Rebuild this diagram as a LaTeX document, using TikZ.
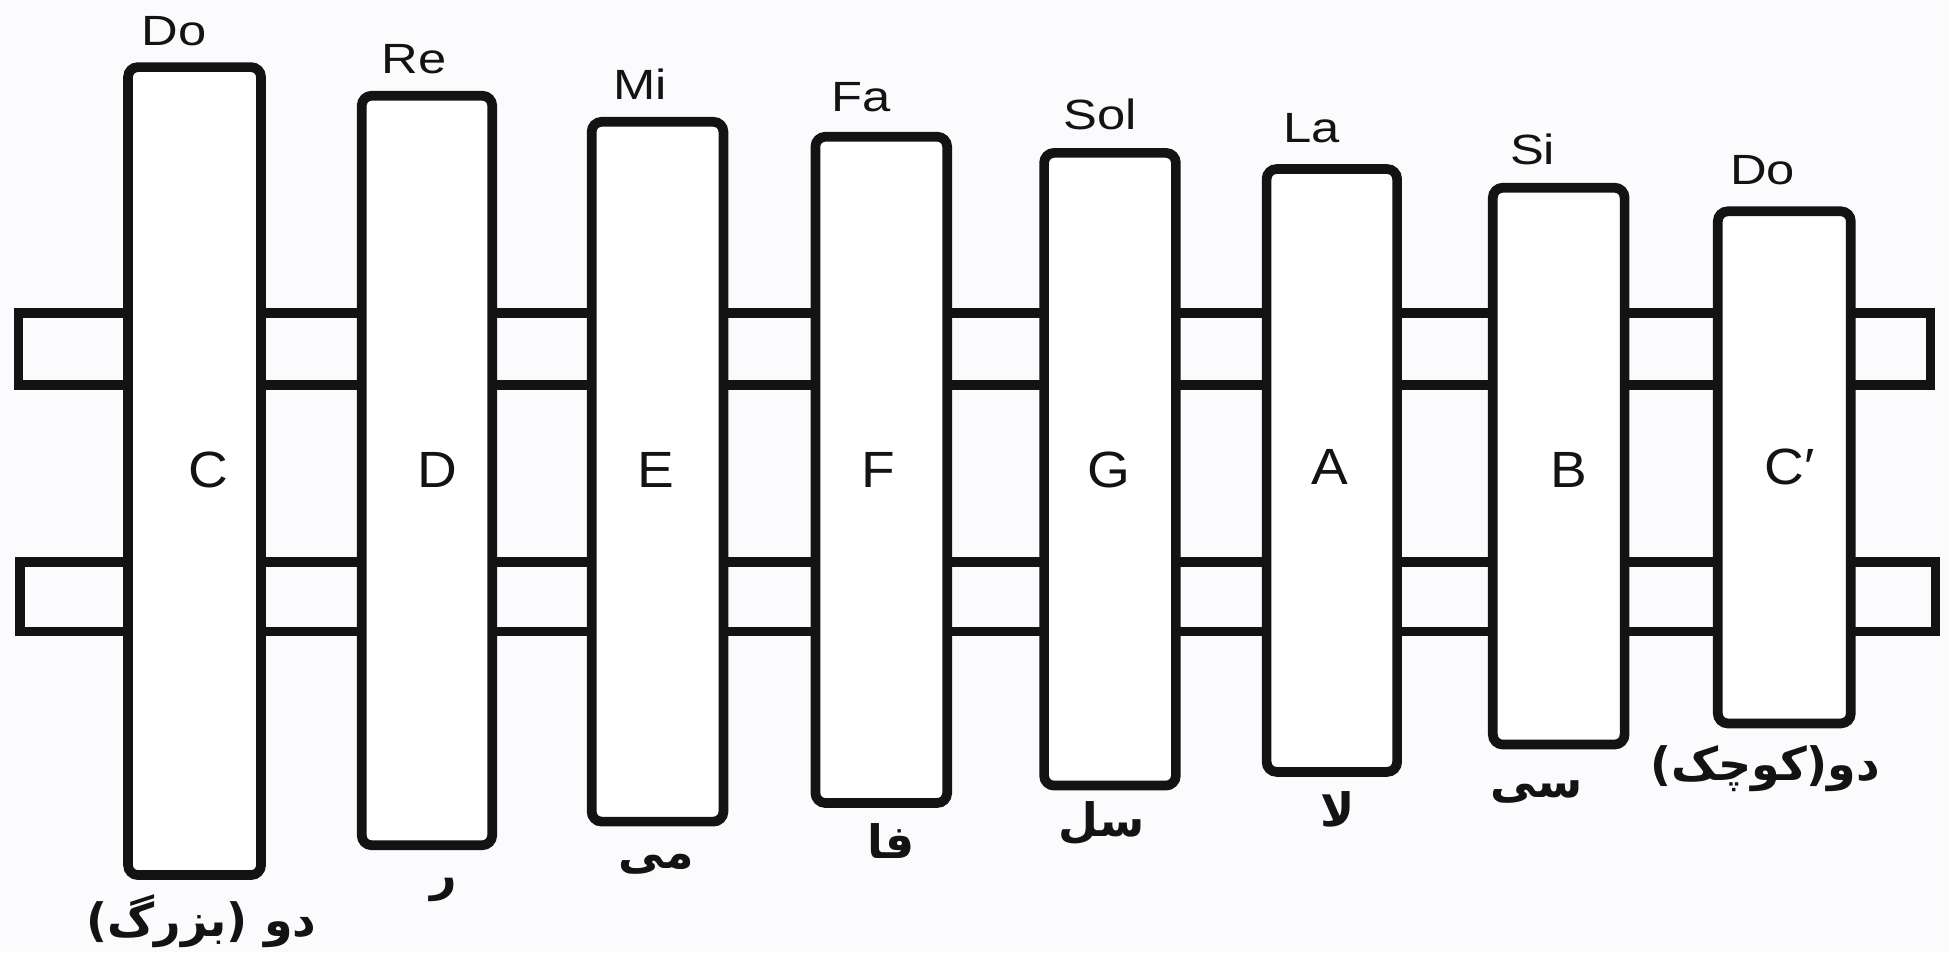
\documentclass[tikz,border=0pt]{standalone}
\usepackage{fontspec}
\setmainfont{Liberation Sans}
\newfontfamily\wide[FakeStretch=1.2]{Liberation Sans}
\newfontfamily\widebig[FakeStretch=1.08]{Liberation Sans}
\newfontfamily\fa[Script=Arabic]{DejaVu Sans}
\TeXXeTstate=1
\definecolor{ink}{RGB}{20,18,18}
\definecolor{paper}{RGB}{251,251,253}
\begin{document}
\begin{tikzpicture}[x=0.5pt,y=-0.5pt,
  bar/.style={draw=ink,fill=white,line width=3.9pt,rounded corners=4pt},
  rail/.style={draw=ink,line width=3.9pt,line join=miter},
  top/.style={font=\fontsize{17}{17}\wide,text=ink,inner sep=0pt},
  big/.style={font=\fontsize{20.5}{20.5}\widebig,text=ink,inner sep=0pt},
  fal/.style={font=\fontsize{18.5}{18.5}\fa\bfseries,text=ink,inner sep=0pt}]
\useasboundingbox (0,0) rectangle (1568,766);
\fill[paper] (0,0) rectangle (1568,766);
% rails
\draw[rail] (15,252) rectangle (1553,310);
\draw[rail] (16,452) rectangle (1557,508);
% bars
\draw[bar] (103,54) rectangle (210,704);
\draw[bar] (291,77) rectangle (396,680);
\draw[bar] (476,98) rectangle (582,661);
\draw[bar] (656,110) rectangle (762,646);
\draw[bar] (840,123) rectangle (946,632);
\draw[bar] (1019,136) rectangle (1124,621);
\draw[bar] (1201,151) rectangle (1307,599);
\draw[bar] (1382,170) rectangle (1489,582);
% top labels
\node[top] (t1) at (140,25) {Do};
\node[top] (t2) at (333,48) {Re};
\node[top] (t3) at (515,68) {Mi};
\node[top] (t4) at (693,78) {Fa};
\node[top] (t5) at (885,92) {Sol};
\node[top] (t6) at (1055,103) {La};
\node[top] (t7) at (1233,120) {Si};
\node[top] (t8) at (1418,137) {Do};
% letters
\node[big] (l1) at (168,378) {C};
\node[big] (l2) at (352,378) {D};
\node[big] (l3) at (528,378) {E};
\node[big] (l4) at (707,378) {F};
\node[big] (l5) at (892,378) {G};
\node[big] (l6) at (1070,376) {A};
\node[big] (l7) at (1262,378) {B};
\node[big] (l8) at (1440,376) {C\char"2032};
% persian labels
\node[fal] (p1) at (162,741) {\beginR دو (بزرگ)\endR};
\node[fal] (p2) at (357,716) {\beginR ر\endR};
\node[fal] (p3) at (528,695) {\beginR می\endR};
\node[fal] (p4) at (717,677) {\beginR فا\endR};
\node[fal] (p5) at (886,662) {\beginR سل\endR};
\node[fal] (p6) at (1076,651) {\beginR لا\endR};
\node[fal] (p7) at (1236,637) {\beginR سی\endR};
\node[fal] (p8) at (1420,618) {\beginR دو(کوچک)\endR};
\end{tikzpicture}
\end{document}
